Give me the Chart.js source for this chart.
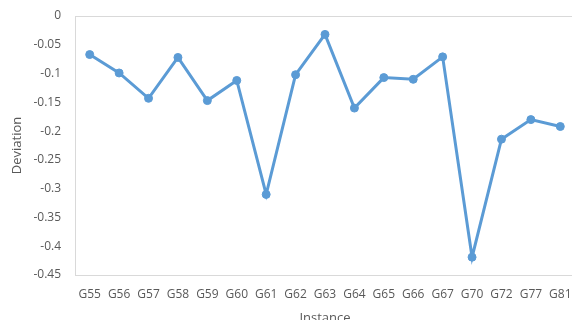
<!DOCTYPE html>
<html>
<head>
<meta charset="utf-8">
<script src="https://cdn.jsdelivr.net/npm/chart.js@4.4.1/dist/chart.umd.min.js"></script>
<style>
    html, body { margin: 0; padding: 0; background: #ffffff; overflow: hidden; }
    #wrap { width: 580px; height: 326px; }
</style>
</head>
<body>
<div id="wrap"><canvas id="deviationChart" width="580" height="326"></canvas></div>
<script>
// Instances on the x axis
const instances = ['G55', 'G56', 'G57', 'G58', 'G59', 'G60', 'G61', 'G62', 'G63',
    'G64', 'G65', 'G66', 'G67', 'G70', 'G72', 'G77', 'G81'];

// Deviation per instance
const deviation = [-0.067, -0.099, -0.143, -0.072, -0.147, -0.112, -0.310, -0.102, -0.032,
    -0.160, -0.107, -0.110, -0.071, -0.419, -0.214, -0.180, -0.192];

// Y axis range
const yMin = -0.45;
const yMax = 0;
const yStep = 0.05;

const textColor = '#595959';
const lineColor = '#5B9BD5';
const axisColor = '#D9D9D9';
const fontFamily = "'Open Sans', 'DejaVu Sans', sans-serif";

const ctx = document.getElementById('deviationChart').getContext('2d');

new Chart(ctx, {
    type: 'line',
    data: {
        labels: instances,
        datasets: [{
            label: 'Deviation',
            data: deviation,
            borderColor: lineColor,
            backgroundColor: lineColor,
            borderWidth: 3,
            pointRadius: 4,
            pointBorderWidth: 1,
            pointBackgroundColor: lineColor,
            pointBorderColor: lineColor,
            tension: 0,
            fill: false
        }]
    },
    options: {
        responsive: false,
        animation: false,
        layout: {
            padding: { top: 16, right: 0, bottom: 0, left: 0 }
        },
        plugins: {
            legend: { display: false },
            tooltip: { enabled: false }
        },
        scales: {
            x: {
                offset: true,
                grid: { display: false, drawTicks: false },
                border: { display: true, color: axisColor, width: 1 },
                ticks: {
                    color: textColor,
                    padding: 12,
                    maxRotation: 0,
                    autoSkip: false,
                    font: { family: fontFamily, size: 12 }
                },
                title: {
                    display: true,
                    text: 'Instance',
                    color: textColor,
                    padding: { top: 3, bottom: 0 },
                    font: { family: fontFamily, size: 13 }
                },
                afterFit: (scale) => {
                    scale.height = 51;
                    scale.paddingLeft = 0;
                    scale.paddingRight = 0;
                }
            },
            y: {
                min: yMin,
                max: yMax,
                grid: {
                    drawTicks: false,
                    color: (c) => (c.tick && c.tick.value === 0 ? axisColor : 'rgba(0,0,0,0)')
                },
                border: { display: true, color: axisColor, width: 1 },
                ticks: {
                    stepSize: yStep,
                    color: textColor,
                    padding: 14,
                    font: { family: fontFamily, size: 12 },
                    callback: (value) => String(Number(value.toFixed(2)) || 0)
                },
                title: {
                    display: true,
                    text: 'Deviation',
                    color: textColor,
                    padding: { top: 9, bottom: 0 },
                    font: { family: fontFamily, size: 13 }
                },
                afterFit: (scale) => {
                    scale.width = 75;
                    scale.paddingTop = 0;
                    scale.paddingBottom = 0;
                }
            }
        }
    }
});
</script>
</body>
</html>
